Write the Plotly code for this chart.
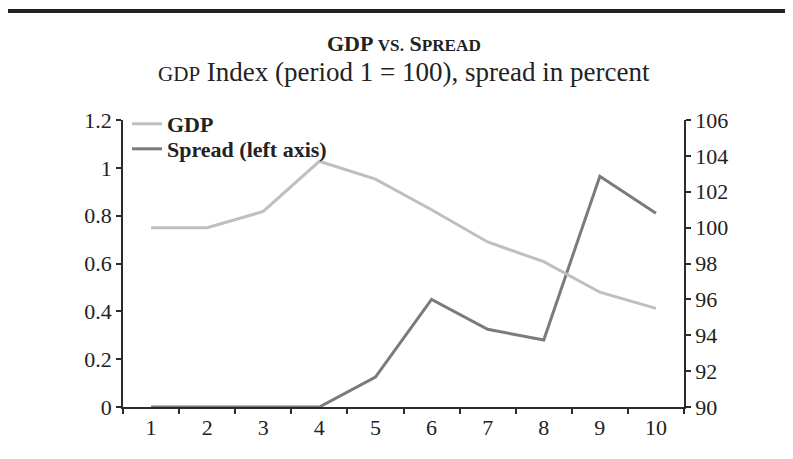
import plotly.graph_objects as go

# ── Data ──────────────────────────────────────────────────────────────────────
periods = ["1", "2", "3", "4", "5", "6", "7", "8", "9", "10"]
gdp_index = [100.0, 100.0, 100.9, 103.7, 102.7, 101.0, 99.2, 98.1, 96.4, 95.5]
spread_pct = [0.0, 0.0, 0.0, 0.0, 0.125, 0.45, 0.325, 0.28, 0.965, 0.81]

left_ticks = [0, 0.2, 0.4, 0.6, 0.8, 1.0, 1.2]
right_ticks = [90, 92, 94, 96, 98, 100, 102, 104, 106]

_GDP_COL = "#bfbfbf"
_SPREAD_COL = "#7b7b7b"
_AXIS_COL = "#2b2b2b"
_FONT = "Liberation Serif, Times New Roman, serif"
_SC = "font-size:0.78em"   # fake small caps

# page body adds an 8px offset, so the figure is 8px smaller on each side
W, H = 785, 451
L, R, T, B = 115, 109, 112, 52
PW, PH = W - L - R, H - T - B

fig = go.Figure()

fig.add_trace(go.Scatter(
    x=periods, y=gdp_index, name="<b>GDP</b>", yaxis="y2", legend="legend",
    mode="lines", line=dict(color=_GDP_COL, width=3),
))
fig.add_trace(go.Scatter(
    x=periods, y=spread_pct, name="<b>Spread (left axis)</b>", yaxis="y",
    legend="legend2",
    mode="lines", line=dict(color=_SPREAD_COL, width=3),
))

axis_common = dict(
    showline=True, linecolor=_AXIS_COL, linewidth=1.5,
    ticks="outside", ticklen=5, tickwidth=1.5, tickcolor=_AXIS_COL,
    showgrid=False, zeroline=False,
    tickfont=dict(family=_FONT, size=22, color="#222"),
)

# one legend per row so the row spacing can follow the reference
legend_common = dict(
    x=4 / PW, xanchor="left", yanchor="middle",
    bgcolor="rgba(0,0,0,0)", font=dict(family=_FONT, size=22, color="#222"),
    itemwidth=30,
)

fig.update_layout(
    width=W, height=H,
    margin=dict(l=L, r=R, t=T, b=B),
    paper_bgcolor="white", plot_bgcolor="white",
    font=dict(family=_FONT, color="#222"),
    showlegend=True,
    legend=dict(y=(H - B - 116) / PH, **legend_common),
    legend2=dict(y=(H - B - 141) / PH, **legend_common),
    xaxis=dict(type="category", range=[-0.5, 9.5], tickson="boundaries",
               **axis_common),
    yaxis=dict(range=[0, 1.2], tickvals=left_ticks, **axis_common),
    yaxis2=dict(range=[90, 106], tickvals=right_ticks, overlaying="y",
                side="right", **axis_common),
    shapes=[dict(
        type="rect", xref="paper", yref="paper",
        x0=(-1 - L) / PW, x1=(W - L) / PW,
        y0=(H - B - 5) / PH, y1=(H - B - 1) / PH,
        fillcolor="#222", line=dict(width=0),
    )],
    annotations=[
        dict(
            text=f"<b>GDP <span style='{_SC}'>VS.</span> S<span style='{_SC}'>PREAD</span></b>",
            xref="paper", yref="paper", x=0.5, y=(H - B - 35) / PH,
            xanchor="center", yanchor="middle", showarrow=False,
            font=dict(family=_FONT, size=22, color="#222"),
        ),
        dict(
            text=f"<span style='{_SC}'>GDP</span> Index (period 1 = 100), spread in percent",
            xref="paper", yref="paper", x=0.5, y=(H - B - 64) / PH,
            xanchor="center", yanchor="middle", showarrow=False,
            font=dict(family=_FONT, size=27, color="#222"),
        ),
    ],
)

fig.write_html("out.html")
